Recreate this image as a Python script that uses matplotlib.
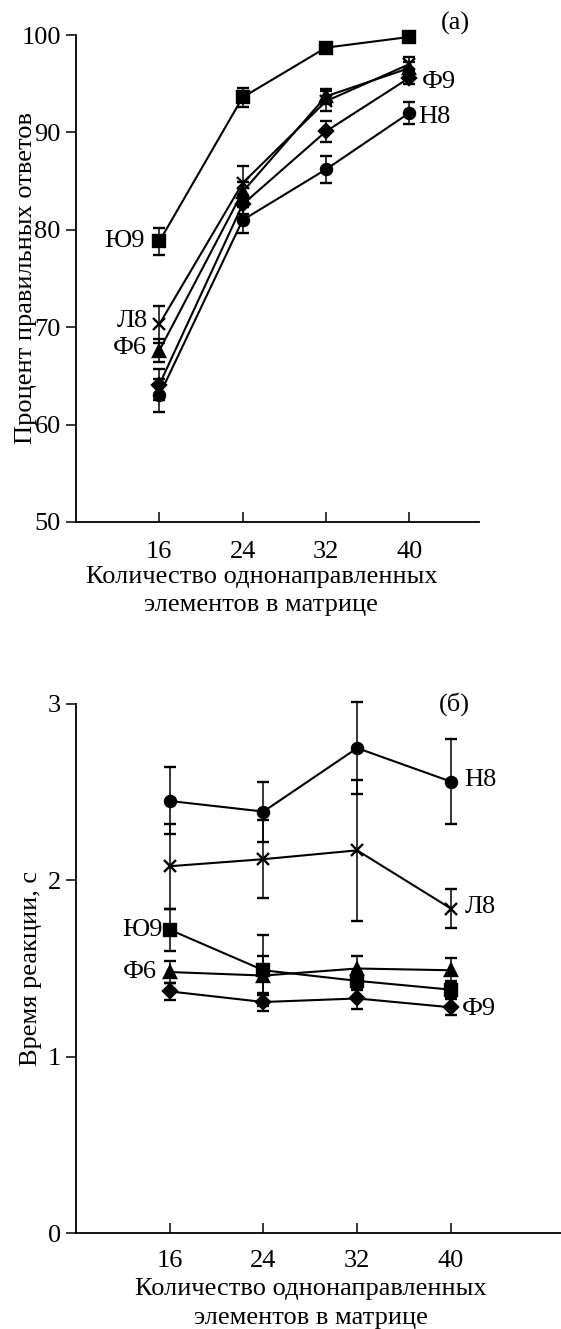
import numpy as np
import matplotlib
matplotlib.use('Agg')
import matplotlib.pyplot as plt

# --- данные ---
x = [16, 24, 32, 40]
series = ['Ю9', 'Л8', 'Ф6', 'Ф9', 'Н8']
markers = {'Ю9': 's', 'Л8': 'x', 'Ф6': '^', 'Ф9': 'D', 'Н8': 'o'}

# (а) процент правильных ответов
acc = {
    'Ю9': [78.8, 93.6, 98.7, 99.8],
    'Л8': [70.3, 84.8, 93.2, 97.0],
    'Ф6': [67.6, 83.9, 93.7, 96.6],
    'Ф9': [64.1, 82.6, 90.1, 95.6],
    'Н8': [63.0, 81.0, 86.2, 92.0],
}
acc_err = {
    'Ю9': [1.4, 1.0, 0.0, 0.0],
    'Л8': [1.9, 1.8, 1.0, 0.7],
    'Ф6': [1.2, 1.0, 0.8, 0.6],
    'Ф9': [1.6, 1.0, 1.1, 0.6],
    'Н8': [1.7, 1.3, 1.4, 1.1],
}

# (б) время реакции, с
rt = {
    'Н8': [2.45, 2.39, 2.75, 2.56],
    'Л8': [2.08, 2.12, 2.17, 1.84],
    'Ю9': [1.72, 1.49, 1.43, 1.38],
    'Ф6': [1.48, 1.46, 1.50, 1.49],
    'Ф9': [1.37, 1.31, 1.33, 1.28],
}
rt_err = {
    'Н8': [0.19, 0.17, 0.26, 0.24],
    'Л8': [0.24, 0.22, 0.40, 0.11],
    'Ю9': [0.12, 0.20, 0.05, 0.05],
    'Ф6': [0.06, 0.11, 0.07, 0.07],
    'Ф9': [0.05, 0.05, 0.06, 0.045],
}

xlabel = 'Количество однонаправленных\nэлементов в матрице'

plt.rcParams['font.family'] = ['Liberation Serif', 'DejaVu Serif']
plt.rcParams['font.size'] = 19

fig = plt.figure(figsize=(5.61, 13.29), dpi=100)
ax1 = fig.add_axes([76/561, 1-522/1329, (479-76)/561, (522-35)/1329])
ax2 = fig.add_axes([76/561, 1-1233/1329, (561-76)/561, (1233-704)/1329])


def draw(ax, vals, errs, pad):
    for s in series:
        m = markers[s]
        ms = 9 if m == 'x' else (7 if m == 'D' else 8)
        ax.errorbar(x, vals[s], yerr=errs[s], color='black', lw=1.5,
                    marker=m, ms=ms, mew=1.7, elinewidth=1.1,
                    capsize=4.5, capthick=1.1, clip_on=False, zorder=3)
    for sp in ['top', 'right']:
        ax.spines[sp].set_visible(False)
    for sp in ['left', 'bottom']:
        ax.spines[sp].set_linewidth(1.3)
    ax.set_xticks(x)
    ax.tick_params(axis='x', direction='in', length=7, width=1.1, pad=pad)
    ax.tick_params(axis='y', direction='out', length=7, width=1.1, pad=4)


# --- панель (а) ---
draw(ax1, acc, acc_err, 14)
ax1.set_xlim(8, 46.7)
ax1.set_ylim(50, 100)
ax1.set_yticks([50, 60, 70, 80, 90, 100])
ax1.set_ylabel('Процент правильных ответов')
ax1.yaxis.set_label_coords(-0.097, 0.5)
ax1.set_xlabel(xlabel, linespacing=1.35)
ax1.xaxis.set_label_coords(0.46, -0.09)
ax1.xaxis.label.set_va('top')
ax1.text(14.6, 78.8, 'Ю9', ha='right', va='center')
ax1.text(14.9, 70.6, 'Л8', ha='right', va='center')
ax1.text(14.8, 67.9, 'Ф6', ha='right', va='center')
ax1.text(41.2, 95.2, 'Ф9', ha='left', va='center')
ax1.text(40.9, 91.6, 'Н8', ha='left', va='center')
ax1.text(44.4, 101.2, '(a)', ha='center', va='center', clip_on=False)

# --- панель (б) ---
draw(ax2, rt, rt_err, 12)
ax2.set_xlim(8, 49.4)
ax2.set_ylim(0, 3)
ax2.set_yticks([0, 1, 2, 3])
ax2.set_ylabel('Время реакции, с')
ax2.yaxis.set_label_coords(-0.070, 0.5)
ax2.set_xlabel(xlabel, linespacing=1.4)
ax2.xaxis.set_label_coords(0.485, -0.085)
ax2.xaxis.label.set_va('top')
ax2.text(41.1, 2.57, 'Н8', ha='left', va='center')
ax2.text(41.2, 1.85, 'Л8', ha='left', va='center')
ax2.text(15.4, 1.72, 'Ю9', ha='right', va='center')
ax2.text(14.9, 1.48, 'Ф6', ha='right', va='center')
ax2.text(40.9, 1.27, 'Ф9', ha='left', va='center')
ax2.text(40.3, 3.0, '(б)', ha='center', va='center', clip_on=False)

fig.savefig('out.png', dpi=100)
